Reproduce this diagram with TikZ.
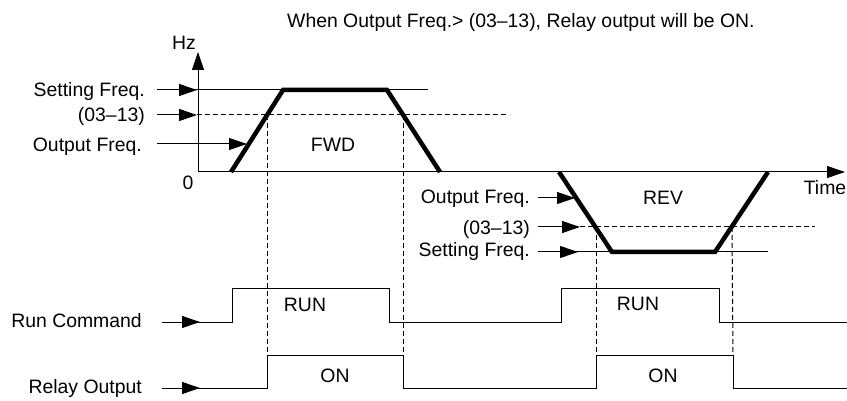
\documentclass[tikz,border=0pt]{standalone}
\usepackage{fontspec}
\setmainfont{Liberation Sans}
\usetikzlibrary{arrows.meta}
\begin{document}
\begin{tikzpicture}[x=1pt,y=-1pt,
  thinline/.style={line width=1pt,line cap=butt},
  ptr/.style={line width=1pt,-{Triangle[length=18pt,width=12pt]}},
  ramp/.style={line width=4.5pt,line join=miter},
  guide/.style={line width=1pt,dash pattern=on 5pt off 3pt},
  lbl/.style={font=\fontsize{19.4}{23}\selectfont,inner sep=0pt}]
\useasboundingbox (0,0) rectangle (847,401);

% title
\node[lbl,anchor=base west] (title) at (287,28) {When Output Freq.> (03–13), Relay output will be ON.};

% axes
\coordinate (org) at (198,172);
\coordinate (ytip) at (198,52);
\coordinate (xtip) at (845,172);
\draw[ptr] (org) -- (ytip);
\draw[ptr] (org) -- (xtip);
\node[lbl,anchor=base] (hz) at (184,50) {Hz};
\node[lbl,anchor=base] (zero) at (188,190) {0};
\node[lbl,anchor=base] (time) at (825,195) {Time};

% FWD labels and lines
\node[lbl,anchor=base east] (sfF) at (145,97) {Setting Freq.};
\node[lbl,anchor=base east] (thF) at (145,122) {(03–13)};
\node[lbl,anchor=base east] (ofF) at (142,152) {Output Freq.};
\coordinate (sfFs) at (157,90);
\coordinate (sfFe) at (428,90);
\coordinate (sfFt) at (197,90);
\coordinate (thFs) at (157,115);
\coordinate (thFt) at (197,115);
\coordinate (thFe) at (507,115);
\coordinate (ofFs) at (157,144);
\coordinate (ofFt) at (247,144);
\draw[thinline] (sfFs) -- (sfFe);
\draw[ptr] (sfFs) -- (sfFt);
\draw[ptr] (thFs) -- (thFt);
\draw[guide] (thFt) -- (thFe);
\draw[ptr] (ofFs) -- (ofFt);

% FWD ramp
\coordinate (f1) at (231,172);
\coordinate (f2) at (283,90);
\coordinate (f3) at (387,90);
\coordinate (f4) at (440,172);
\draw[ramp] (f1) -- (f2) -- (f3) -- (f4);
\node[lbl,anchor=base] (fwd) at (333,152) {FWD};

% REV labels and lines
\node[lbl,anchor=base east] (ofR) at (530,204) {Output Freq.};
\node[lbl,anchor=base east] (thR) at (530,234) {(03–13)};
\node[lbl,anchor=base east] (sfR) at (530,257) {Setting Freq.};
\coordinate (ofRs) at (538,198);
\coordinate (ofRt) at (575,198);
\coordinate (thRs) at (538,227);
\coordinate (thRt) at (580,227);
\coordinate (thRe) at (815,227);
\coordinate (sfRs) at (538,252);
\coordinate (sfRt) at (578,252);
\coordinate (sfRe) at (768,252);
\draw[ptr] (ofRs) -- (ofRt);
\draw[ptr] (thRs) -- (thRt);
\draw[guide] (thRt) -- (thRe);
\draw[thinline] (sfRs) -- (sfRe);
\draw[ptr] (sfRs) -- (sfRt);

% REV ramp
\coordinate (r1) at (559,172);
\coordinate (r2) at (612,252);
\coordinate (r3) at (715,252);
\coordinate (r4) at (768,172);
\draw[ramp] (r1) -- (r2) -- (r3) -- (r4);
\node[lbl,anchor=base] (rev) at (663,205) {REV};

% Run command
\node[lbl,anchor=base east] (runcmd) at (142,327) {Run Command};
\coordinate (rcs) at (162,322);
\coordinate (rct) at (200,322);
\draw[ptr] (rcs) -- (rct);
\draw[thinline] (rcs) -- (232,322) -- (232,288) -- (389,288) -- (389,322)
  -- (561,322) -- (561,288) -- (719,288) -- (719,322) -- (847,322);
\node[lbl,anchor=base] (run1) at (305,311) {RUN};
\node[lbl,anchor=base] (run2) at (638,310) {RUN};

% Relay output
\node[lbl,anchor=base east] (relay) at (142,393) {Relay Output};
\coordinate (ros) at (162,388);
\coordinate (rot) at (200,388);
\draw[ptr] (ros) -- (rot);
\coordinate (a1) at (267,355);
\coordinate (a2) at (403,355);
\coordinate (a3) at (596,355);
\coordinate (a4) at (733,355);
\draw[thinline] (ros) -- (267,388) -- (a1) -- (a2) -- (403,388)
  -- (596,388) -- (a3) -- (a4) -- (733,388) -- (847,388);
\node[lbl,anchor=base] (on1) at (335,382) {ON};
\node[lbl,anchor=base] (on2) at (663,382) {ON};

% guides
\coordinate (g1) at (267,115);
\coordinate (g2) at (403,115);
\coordinate (g3) at (596,227);
\coordinate (g4) at (732,227);
\draw[guide] (g1) -- (a1);
\draw[guide] (g2) -- (a2);
\draw[guide] (g3) -- (a3);
\draw[guide] (g4) -- (a4);
\end{tikzpicture}
\end{document}
